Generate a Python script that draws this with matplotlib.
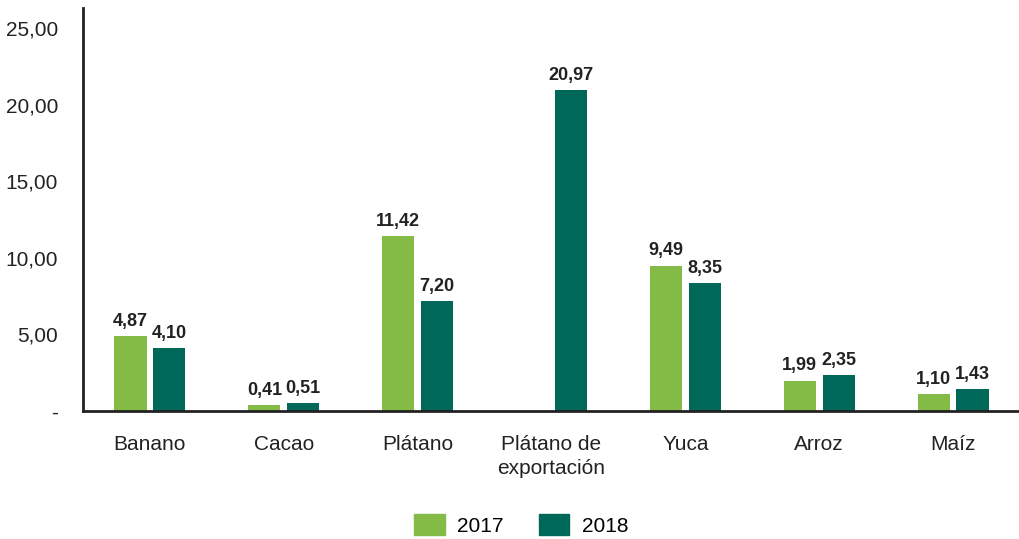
import numpy as np
import matplotlib
matplotlib.use("Agg")
import matplotlib.pyplot as plt
from matplotlib.patches import Patch

categories = ["Banano", "Cacao", "Plátano", "Plátano de\nexportación", "Yuca", "Arroz", "Maíz"]
v2017 = [4.87, 0.41, 11.42, np.nan, 9.49, 1.99, 1.10]
v2018 = [4.10, 0.51, 7.20, 20.97, 8.35, 2.35, 1.43]
yticks = [0, 5, 10, 15, 20, 25]

c17 = "#84bb47"
c18 = "#006858"

plt.rcParams["font.family"] = ["Liberation Sans Narrow", "Liberation Sans", "DejaVu Sans"]

fig = plt.figure(figsize=(10.2, 5.39), dpi=100)
ax = fig.add_axes([83 / 1020, 128 / 539, 1 - 83 / 1020, (411 - 8) / 539])

x = np.arange(len(categories))
w = 0.24
off = 0.145
b1 = ax.bar(x - off, v2017, w, color=c17)
b2 = ax.bar(x + off, v2018, w, color=c18)

def fmt(v):
    return f"{v:.2f}".replace(".", ",")

# value labels above bars (no label for the missing 2017 export plantain)
for bars, vals in ((b1, v2017), (b2, v2018)):
    for b, v in zip(bars, vals):
        if np.isnan(v):
            continue
        ax.text(b.get_x() + b.get_width() / 2, v + 0.4, fmt(v),
                ha="center", va="bottom", fontsize=13, fontweight="bold", color="#222222")

ax.set_xlim(-0.5, len(categories) - 0.5)
ax.set_ylim(0, 26.3)
ax.set_yticks(yticks)
ax.set_yticklabels(["-"] + [fmt(t) for t in yticks[1:]], fontsize=15, color="#222222")
ax.set_xticks(x)
ax.set_xticklabels(categories, fontsize=15, color="#222222", linespacing=1.35)
ax.tick_params(axis="both", length=0)
ax.tick_params(axis="y", pad=18)
ax.tick_params(axis="x", pad=17)

for s in ("top", "right"):
    ax.spines[s].set_visible(False)
for s in ("left", "bottom"):
    ax.spines[s].set_color("#222222")
    ax.spines[s].set_linewidth(2)

handles = [Patch(color=c17, label="2017"), Patch(color=c18, label="2018")]
fig.legend(handles=handles, loc="center", bbox_to_anchor=(0.511, 1 - 525 / 539), ncol=2,
           frameon=False, fontsize=15, handlelength=1.45, handleheight=1.15,
           columnspacing=1.7, handletextpad=0.6)

fig.savefig("out.png", dpi=100)
